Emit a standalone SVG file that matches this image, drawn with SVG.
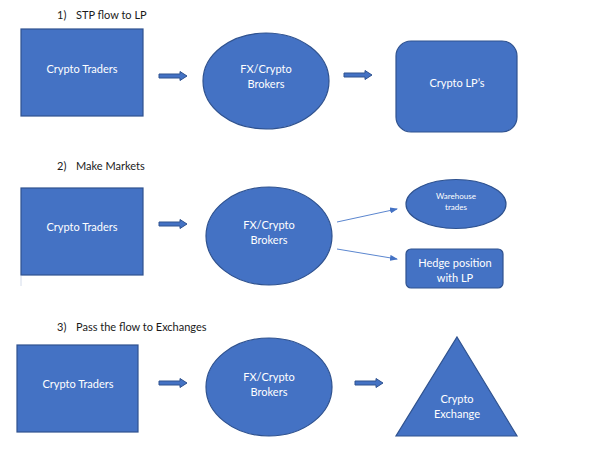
<svg xmlns="http://www.w3.org/2000/svg" width="590" height="449" viewBox="0 0 590 449">
<style>
.shape{fill:#4472C4;stroke:#2F528F;stroke-width:1.2}
.lbl{font-family:Lato,"Liberation Sans",sans-serif;font-size:11px;fill:#FFFFFF;text-anchor:middle}
.small{font-size:8px}
.title{font-family:Lato,"Liberation Sans",sans-serif;font-size:11px;fill:#1a1a1a}
.blk{fill:#4472C4;stroke:#2F528F;stroke-width:1}
.thin{stroke:#5B86CF;stroke-width:1;fill:none}
</style>
<defs>
<marker id="ah" markerWidth="8" markerHeight="6" refX="7" refY="3" orient="auto" markerUnits="userSpaceOnUse">
<path d="M0,0 L8,3 L0,6 Z" fill="#4472C4"/>
</marker>
<path id="barrow" d="M0,-2 L21,-2 L21,-4.5 L28,0 L21,4.5 L21,2 L0,2 Z"/>
</defs>
<rect width="590" height="449" fill="#FFFFFF"/>

<g id="titles">
<text class="title" x="57" y="19">1)</text><text class="title" x="76" y="19">STP flow to LP</text>
<text class="title" x="57" y="170">2)</text><text class="title" x="76" y="170">Make Markets</text>
<text class="title" x="57" y="331">3)</text><text class="title" x="76" y="331">Pass the flow to Exchanges</text>
</g>

<g id="connectors">
<use href="#barrow" class="blk" x="159" y="76"/>
<use href="#barrow" class="blk" x="344" y="75"/>
<use href="#barrow" class="blk" x="159" y="224"/>
<line class="thin" x1="337" y1="222" x2="397" y2="209" marker-end="url(#ah)"/>
<line class="thin" x1="337" y1="249" x2="397" y2="259" marker-end="url(#ah)"/>
<use href="#barrow" class="blk" x="159" y="383"/>
<use href="#barrow" class="blk" x="355" y="383"/>
<line x1="21" y1="276" x2="21" y2="286" stroke="#C9D3E6" stroke-width="0.8"/>
</g>

<g id="traders1">
<rect class="shape" x="21" y="29" width="122" height="87"/>
<text class="lbl" x="82" y="73">Crypto Traders</text>
</g>
<g id="brokers1">
<ellipse class="shape" cx="266" cy="81" rx="63" ry="48"/>
<text class="lbl" x="266" y="73">FX/Crypto</text>
<text class="lbl" x="266" y="88">Brokers</text>
</g>
<g id="lp1">
<rect class="shape" x="396" y="41" width="121" height="91" rx="15"/>
<text class="lbl" x="457" y="87">Crypto LP’s</text>
</g>

<g id="traders2">
<rect class="shape" x="21" y="188" width="122" height="87"/>
<text class="lbl" x="82" y="231">Crypto Traders</text>
</g>
<g id="brokers2">
<ellipse class="shape" cx="269" cy="236" rx="63" ry="49"/>
<text class="lbl" x="269" y="229">FX/Crypto</text>
<text class="lbl" x="269" y="244">Brokers</text>
</g>
<g id="warehouse">
<ellipse class="shape" cx="456" cy="204" rx="50" ry="24.5"/>
<text class="lbl small" x="456" y="199">Warehouse</text>
<text class="lbl small" x="456" y="210">trades</text>
</g>
<g id="hedge">
<rect class="shape" x="406" y="249" width="97" height="39" rx="5"/>
<text class="lbl" x="455" y="267">Hedge position</text>
<text class="lbl" x="455" y="282">with LP</text>
</g>

<g id="traders3">
<rect class="shape" x="17" y="345" width="121" height="87"/>
<text class="lbl" x="78" y="388">Crypto Traders</text>
</g>
<g id="brokers3">
<ellipse class="shape" cx="269" cy="387" rx="63" ry="49"/>
<text class="lbl" x="269" y="381">FX/Crypto</text>
<text class="lbl" x="269" y="396">Brokers</text>
</g>
<g id="exchange">
<polygon class="shape" points="457,337 517,436 396,436"/>
<text class="lbl" x="457" y="403">Crypto</text>
<text class="lbl" x="457" y="418">Exchange</text>
</g>
</svg>
